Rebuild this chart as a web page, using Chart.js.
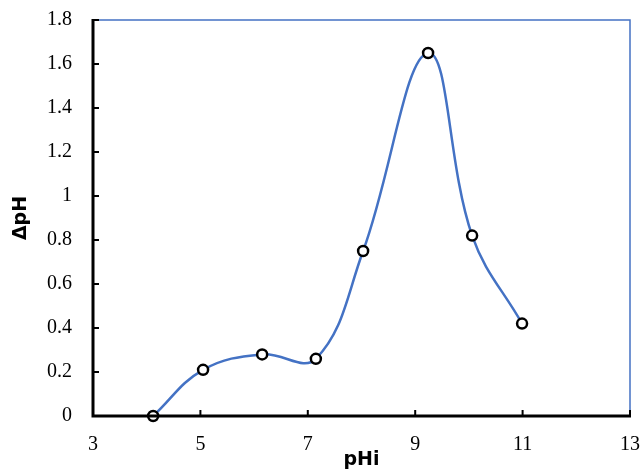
<!DOCTYPE html>
<html>
<head>
<meta charset="utf-8">
<script src="https://cdn.jsdelivr.net/npm/chart.js@4"></script>
<style>
  html, body { margin: 0; padding: 0; background: #fff; }
  #wrap { width: 643px; height: 471px; }
</style>
</head>
<body>
<div id="wrap"><canvas id="graph"></canvas></div>
<script>
const phi = [4.12, 5.05, 6.15, 7.15, 8.03, 9.24, 10.06, 10.99];
const deltaPh = [0, 0.21, 0.28, 0.26, 0.75, 1.65, 0.82, 0.42];
const xTicks = [3, 5, 7, 9, 11, 13];
const yTicks = [0, 0.2, 0.4, 0.6, 0.8, 1, 1.2, 1.4, 1.6, 1.8];

const points = phi.map((x, i) => ({ x: x, y: deltaPh[i] }));

// ticks pointing inside + blue frame on top/right, like Excel
const frame = {
    id: 'frame',
    afterDatasetsDraw(chart) {
        const ctx = chart.ctx;
        const a = chart.chartArea;
        const xs = chart.scales.x, ys = chart.scales.y;
        ctx.save();
        ctx.strokeStyle = '#4472C4';
        ctx.lineWidth = 1.5;
        ctx.beginPath();
        ctx.moveTo(a.left, a.top);
        ctx.lineTo(a.right, a.top);
        ctx.lineTo(a.right, a.bottom);
        ctx.stroke();
        ctx.strokeStyle = '#000';
        ctx.lineWidth = 3;
        ctx.beginPath();
        ctx.moveTo(a.left, a.top - 1);
        ctx.lineTo(a.left, a.bottom);
        ctx.lineTo(a.right + 1, a.bottom);
        ctx.stroke();
        ctx.lineWidth = 2;
        ctx.beginPath();
        yTicks.forEach(v => {
            const p = ys.getPixelForValue(v);
            ctx.moveTo(a.left, p);
            ctx.lineTo(a.left + 6, p);
        });
        xTicks.forEach(v => {
            const p = xs.getPixelForValue(v);
            ctx.moveTo(p, a.bottom);
            ctx.lineTo(p, a.bottom - 6);
        });
        ctx.stroke();
        ctx.restore();
    }
};

const tickFont = { family: 'Liberation Serif', size: 20 };
const titleFont = { family: 'DejaVu Sans', size: 19, weight: 'bold' };

new Chart(document.getElementById('graph'), {
    type: 'scatter',
    data: {
        datasets: [{
            data: points,
            showLine: true,
            tension: 0.4,
            borderColor: '#4472C4',
            borderWidth: 2.5,
            pointRadius: 5,
            pointBorderWidth: 2.5,
            pointBackgroundColor: '#fff',
            pointBorderColor: '#000',
            clip: false
        }]
    },
    options: {
        responsive: true,
        maintainAspectRatio: false,
        animation: false,
        layout: { padding: { top: 20, right: 13, left: 0, bottom: 0 } },
        plugins: { legend: { display: false }, tooltip: { enabled: false } },
        scales: {
            x: {
                type: 'linear',
                min: 3, max: 13,
                afterBuildTicks: s => { s.ticks = xTicks.map(v => ({ value: v })); },
                afterFit: s => { s.height = 55; s.paddingLeft = 0; s.paddingRight = 0; },
                grid: { display: false, drawTicks: false },
                border: { display: false },
                ticks: { color: '#000', font: tickFont, padding: 17, maxRotation: 0 },
                title: { display: true, text: 'pHi', color: '#000', font: titleFont, padding: { top: 0, bottom: 0 } }
            },
            y: {
                min: 0, max: 1.8,
                afterBuildTicks: s => { s.ticks = yTicks.map(v => ({ value: v })); },
                afterFit: s => { s.width = 93; s.paddingTop = 0; s.paddingBottom = 0; },
                grid: { display: false, drawTicks: false },
                border: { display: false },
                ticks: { color: '#000', font: tickFont, padding: 21, callback: v => String(+v.toFixed(1)) },
                title: { display: true, text: 'ΔpH', color: '#000', font: titleFont, padding: { top: 10, bottom: 0 } }
            }
        }
    },
    plugins: [frame]
});
</script>
</body>
</html>
